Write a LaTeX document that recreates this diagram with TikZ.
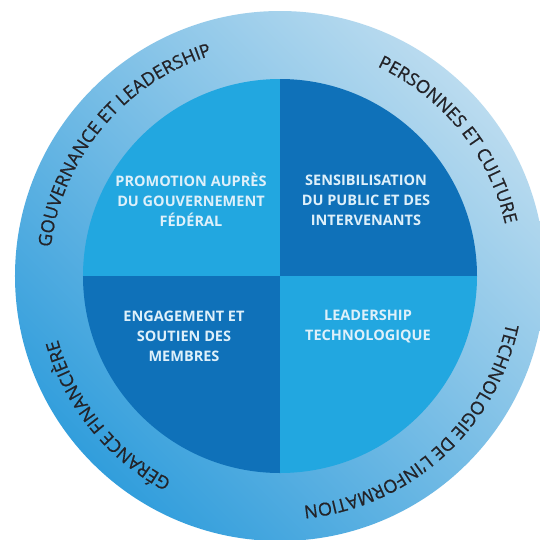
\documentclass[tikz,border=0pt]{standalone}
\usepackage{fontspec}
\setsansfont{Open Sans}
\newfontfamily\ringfont{Open Sans}[FakeBold=0.7]
\usetikzlibrary{decorations.text}
\definecolor{quadlight}{RGB}{34,167,224}
\definecolor{quaddark}{RGB}{15,113,185}
\definecolor{ringdark}{RGB}{50,158,220}
\definecolor{ringlight}{RGB}{186,219,239}
\definecolor{ringtext}{RGB}{35,35,40}
\definecolor{quadtext}{RGB}{222,240,250}
\newcommand{\ringsize}{\ringfont\fontsize{18}{20}\selectfont}
\tikzset{
  quadlabel/.style={align=center, text=quadtext, font=\sffamily\bfseries\fontsize{14.5}{20}\selectfont},
  ringlabel/.style={decorate, decoration={text along path, text align=center, text color=ringtext, text={#1}}},
}
\begin{document}
\begin{tikzpicture}[x=1pt,y=1pt]

\useasboundingbox (-280,-263) rectangle (260,276);
\fill[white] (-280,-263) rectangle (260,276);
\clip (-280,-263) rectangle (260,276);

\shade[top color=ringlight, bottom color=ringdark, shading angle=-45] (0,0) circle[radius=265pt];
\fill[quadlight] (0,0) -- (90:197pt) arc[start angle=90, end angle=180, radius=197pt] -- cycle;
\fill[quaddark] (0,0) -- (0:197pt) arc[start angle=0, end angle=90, radius=197pt] -- cycle;
\fill[quaddark] (0,0) -- (180:197pt) arc[start angle=180, end angle=270, radius=197pt] -- cycle;
\fill[quadlight] (0,0) -- (270:197pt) arc[start angle=270, end angle=360, radius=197pt] -- cycle;

\node[quadlabel] (q1) at (-89,76) {PROMOTION AUPRÈS\\DU GOUVERNEMENT\\FÉDÉRAL};
\node[quadlabel] (q2) at (86,76) {SENSIBILISATION\\DU PUBLIC ET DES\\INTERVENANTS};
\node[quadlabel] (q3) at (-96,-60) {ENGAGEMENT ET\\SOUTIEN DES\\MEMBRES};
\node[quadlabel] (q4) at (88,-50) {LEADERSHIP\\TECHNOLOGIQUE};

\path[ringlabel={|\ringsize|GOUVERNANCE ET LEADERSHIP}] (200:231pt) arc[start angle=200, end angle=80, radius=231pt];
\path[ringlabel={|\ringsize|PERSONNES ET CULTURE}] (99:231pt) arc[start angle=99, end angle=-21, radius=231pt];
\path[ringlabel={|\ringsize|TECHNOLOGIE DE L’INFORMATION}] (12:231pt) arc[start angle=12, end angle=-108, radius=231pt];
\path[ringlabel={|\ringsize|GÉRANCE FINANCIÈRE}] (279:231pt) arc[start angle=279, end angle=159, radius=231pt];
\end{tikzpicture}
\end{document}
